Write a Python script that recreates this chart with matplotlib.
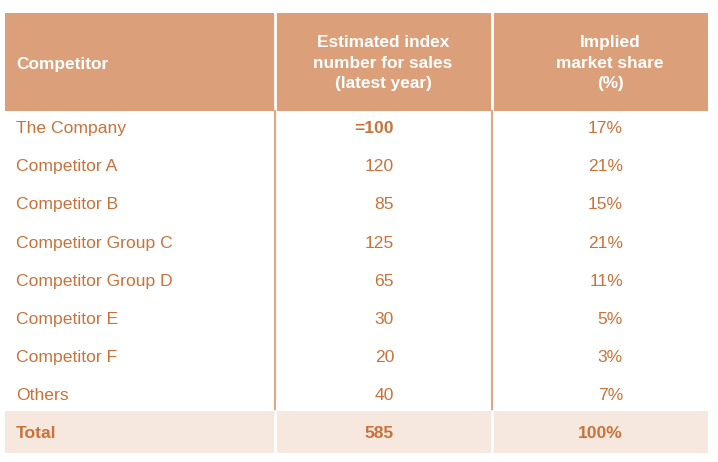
import matplotlib.pyplot as plt
from matplotlib.patches import Rectangle

competitors = ["The Company", "Competitor A", "Competitor B", "Competitor Group C",
               "Competitor Group D", "Competitor E", "Competitor F", "Others"]
index_values = ["=100", "120", "85", "125", "65", "30", "20", "40"]
shares = ["17%", "21%", "15%", "21%", "11%", "5%", "3%", "7%"]
total_label = "Total"
total_index = "585"
total_share = "100%"
headers = ["Competitor", "Estimated index\nnumber for sales\n(latest year)", "Implied\nmarket share\n(%)"]

HEAD = "#DBA07A"
TXT = "#C8723A"
TOTBG = "#F6E8DF"
LINE = "#E0A882"

plt.rcParams['font.family'] = ['Liberation Sans', 'DejaVu Sans']
fig = plt.figure(figsize=(7.18, 4.62), dpi=100)
ax = fig.add_axes([0, 0, 1, 1])
ax.set_xlim(0, 718)
ax.set_ylim(462, 0)
ax.axis('off')

FS = 12.6
HFS = 12.4
x0, x1, x2, x3 = 5, 275, 492, 708
# header
ax.add_patch(Rectangle((x0, 13), x3 - x0, 98, color=HEAD, lw=0))
for xs in (x1, x2):
    ax.plot([xs, xs], [13, 111], color='white', lw=2)
ax.text(16, 65, headers[0], color='white', fontsize=HFS, fontweight='bold', va='center', ha='left')
ax.text(383, 63, headers[1], color='white', fontsize=HFS, fontweight='bold', va='center', ha='center', linespacing=1.42)
ax.text(610, 63, headers[2], color='white', fontsize=HFS, fontweight='bold', va='center', ha='center', linespacing=1.42)

# body
row_y0 = 128.5
dy = 38.2
for i, (c, v, s) in enumerate(zip(competitors, index_values, shares)):
    y = row_y0 + i * dy
    ax.text(16, y, c, color=TXT, fontsize=FS, va='center', ha='left')
    ax.text(394, y, v, color=TXT, fontsize=FS, va='center', ha='right',
            fontweight='bold' if v.startswith('=') else 'normal')
    ax.text(623, y, s, color=TXT, fontsize=FS, va='center', ha='right')
for xs in (x1, x2):
    ax.plot([xs, xs], [111, 411], color=LINE, lw=1.5)

# total
ax.add_patch(Rectangle((x0, 411), x3 - x0, 42, color=TOTBG, lw=0))
for xs in (x1, x2):
    ax.plot([xs, xs], [411, 453], color='white', lw=2)
ty = 434
ax.text(16, ty, total_label, color=TXT, fontsize=FS, fontweight='bold', va='center', ha='left')
ax.text(394, ty, total_index, color=TXT, fontsize=FS, fontweight='bold', va='center', ha='right')
ax.text(623, ty, total_share, color=TXT, fontsize=FS, fontweight='bold', va='center', ha='right')

fig.savefig('out.png', dpi=100)
